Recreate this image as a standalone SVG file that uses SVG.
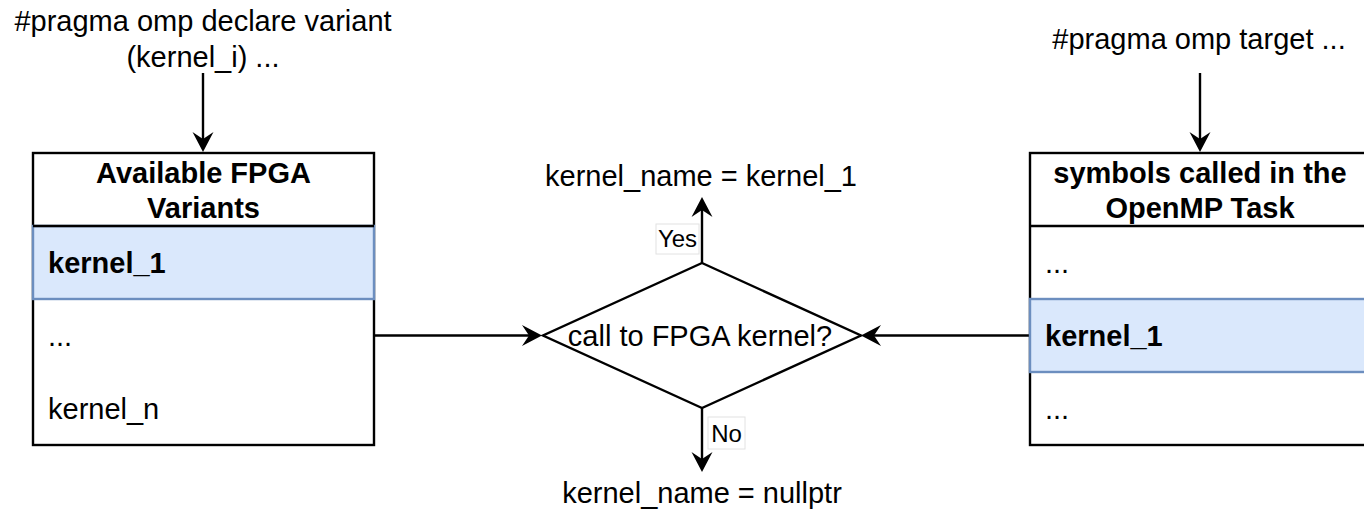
<svg xmlns="http://www.w3.org/2000/svg" width="1364" height="509" viewBox="0 0 1364 509">
<style>
text{font-family:"Liberation Sans",Arial,Helvetica,sans-serif;font-size:29px;fill:#000}
.b{font-weight:bold}
.c{text-anchor:middle}
.lbl{font-size:24px}
.box{fill:#fff;stroke:#000;stroke-width:2.4}
.hl{fill:#dae8fc;stroke:#6c8ebf;stroke-width:2.4}
.sep{stroke:#000;stroke-width:2.4;fill:none}
.edge{stroke:#000;stroke-width:2.4;fill:none;marker-end:url(#arr)}
.lb{fill:#fff;stroke:#e2e2e2;stroke-width:1}
</style>
<defs>
<marker id="arr" markerUnits="userSpaceOnUse" markerWidth="22" markerHeight="22" refX="7" refY="10.5" orient="auto" overflow="visible">
<path d="M0,0 L20,10.5 L0,21 L7,10.5 Z" fill="#000"/>
</marker>
</defs>
<rect width="1364" height="509" fill="#fff"/>

<g id="connectors">
<line class="edge" x1="203" y1="73" x2="203" y2="139"/>
<line class="edge" x1="1200" y1="73" x2="1200" y2="139"/>
<line class="edge" x1="374" y1="335.5" x2="529" y2="335.5"/>
<line class="edge" x1="1030" y1="335.5" x2="874" y2="335.5"/>
<line class="edge" x1="702" y1="263" x2="702" y2="210"/>
<line class="edge" x1="702" y1="408" x2="702" y2="459"/>
<g id="label-yes"><rect class="lb" x="656" y="224" width="43" height="30"/><text class="lbl c" x="677.5" y="247">Yes</text></g>
<g id="label-no"><rect class="lb" x="708" y="417" width="37" height="32"/><text class="lbl c" x="726.5" y="442">No</text></g>
</g>

<g id="text-declare-variant">
<text class="c" x="203" y="31">#pragma omp declare variant</text>
<text class="c" x="203" y="67">(kernel_i) ...</text>
</g>

<g id="text-omp-target">
<text class="c" x="1199" y="49">#pragma omp target ...</text>
</g>

<g id="table-variants">
<rect class="box" x="33" y="153" width="341" height="292"/>
<rect class="hl" x="33" y="226" width="341" height="73"/>
<line class="sep" x1="33" y1="226" x2="374" y2="226"/>
<text class="b c" x="203.5" y="183">Available FPGA</text>
<text class="b c" x="203.5" y="218">Variants</text>
<text class="b" x="48" y="272.5">kernel_1</text>
<text x="48" y="345.5">...</text>
<text x="48" y="418.5">kernel_n</text>
</g>

<g id="decision">
<polygon points="702,263 861,335.5 702,408 543,335.5" fill="#fff" stroke="#000" stroke-width="2.4"/>
<text class="c" x="700" y="346">call to FPGA kernel?</text>
</g>

<g id="result-yes">
<text class="c" x="701" y="186">kernel_name = kernel_1</text>
</g>

<g id="result-no">
<text class="c" x="702" y="503">kernel_name = nullptr</text>
</g>

<g id="table-symbols">
<rect class="box" x="1030" y="153" width="341" height="292"/>
<rect class="hl" x="1030" y="299" width="341" height="73"/>
<line class="sep" x1="1030" y1="226" x2="1371" y2="226"/>
<text class="b c" x="1200" y="183">symbols called in the</text>
<text class="b c" x="1200" y="218">OpenMP Task</text>
<text x="1045" y="272.5">...</text>
<text class="b" x="1045" y="345.5">kernel_1</text>
<text x="1045" y="418.5">...</text>
</g>
</svg>
